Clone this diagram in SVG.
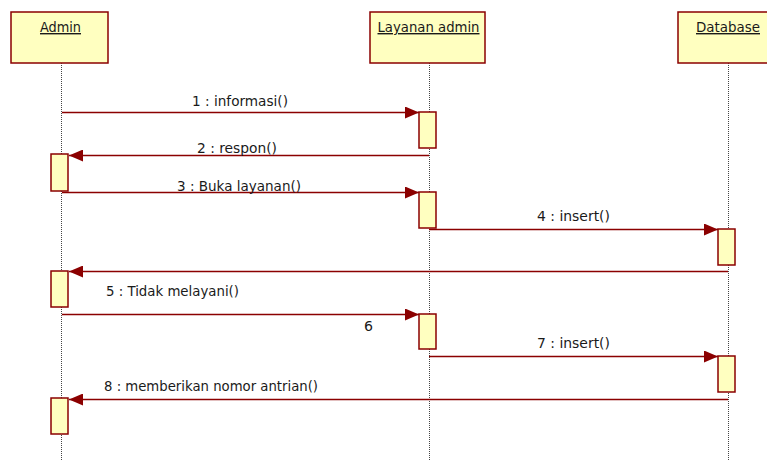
<svg xmlns="http://www.w3.org/2000/svg" width="767" height="460" viewBox="0 0 767 460">
<defs>
<style>
.obj{fill:#ffffc0;stroke:#8b0000;stroke-width:1.5}
.act{fill:#ffffc0;stroke:#8b0000;stroke-width:1.5}
.life{stroke:#444;stroke-width:1;stroke-dasharray:1,1;fill:none}
.msg{stroke:#8b0000;stroke-width:1.4;fill:none;marker-end:url(#ah)}
.hd{font-family:"DejaVu Sans",Verdana,sans-serif;font-size:14px;fill:#1a1a1a;text-decoration:underline;text-anchor:middle}
.lb{font-family:"DejaVu Sans",Verdana,sans-serif;font-size:14px;fill:#1a1a1a}
</style>
<marker id="ah" markerUnits="userSpaceOnUse" markerWidth="16" markerHeight="12" refX="14" refY="6" orient="auto">
<path d="M0,0 L14,6 L0,12 Z" fill="#8b0000"/>
</marker>
</defs>
<rect width="767" height="460" fill="#ffffff"/>
<g id="admin">
<line class="life" x1="61.5" y1="63" x2="61.5" y2="460"/>
<rect class="obj" x="11" y="12" width="97" height="51"/>
<text class="hd" x="60.5" y="32" textLength="41" lengthAdjust="spacingAndGlyphs">Admin</text>
<rect class="act" x="51" y="154" width="17" height="37"/>
<rect class="act" x="51" y="271" width="17" height="36"/>
<rect class="act" x="51" y="398" width="17" height="36"/>
</g>
<g id="layanan">
<line class="life" x1="429.5" y1="63" x2="429.5" y2="460"/>
<rect class="obj" x="370" y="12" width="115" height="51"/>
<text class="hd" x="428.5" y="32" textLength="102" lengthAdjust="spacingAndGlyphs">Layanan admin</text>
<rect class="act" x="419" y="112" width="17" height="36"/>
<rect class="act" x="419" y="192" width="17" height="36"/>
<rect class="act" x="419" y="314" width="17" height="35"/>
</g>
<g id="database">
<line class="life" x1="728.5" y1="63" x2="728.5" y2="460"/>
<rect class="obj" x="678" y="12" width="100" height="51"/>
<text class="hd" x="728" y="32" textLength="64" lengthAdjust="spacingAndGlyphs">Database</text>
<rect class="act" x="718" y="229" width="17" height="36"/>
<rect class="act" x="718" y="356" width="17" height="36"/>
</g>
<g id="connectors">
<line class="msg" x1="62" y1="112.5" x2="419" y2="112.5"/>
<line class="msg" x1="429" y1="155.5" x2="69" y2="155.5"/>
<line class="msg" x1="62" y1="192.5" x2="419" y2="192.5"/>
<line class="msg" x1="429" y1="229.5" x2="718" y2="229.5"/>
<line class="msg" x1="728" y1="271.5" x2="69" y2="271.5"/>
<line class="msg" x1="62" y1="314.5" x2="419" y2="314.5"/>
<line class="msg" x1="429" y1="356.5" x2="718" y2="356.5"/>
<line class="msg" x1="728" y1="399.5" x2="69" y2="399.5"/>
</g>
<g id="labels">
<text class="lb" x="192" y="106" textLength="96" lengthAdjust="spacingAndGlyphs">1 : informasi()</text>
<text class="lb" x="197" y="153" textLength="80" lengthAdjust="spacingAndGlyphs">2 : respon()</text>
<text class="lb" x="177" y="191" textLength="124" lengthAdjust="spacingAndGlyphs">3 : Buka layanan()</text>
<text class="lb" x="537" y="221" textLength="73" lengthAdjust="spacingAndGlyphs">4 : insert()</text>
<text class="lb" x="106" y="296" textLength="133" lengthAdjust="spacingAndGlyphs">5 : Tidak melayani()</text>
<text class="lb" x="364" y="331" textLength="9" lengthAdjust="spacingAndGlyphs">6</text>
<text class="lb" x="537" y="348" textLength="73" lengthAdjust="spacingAndGlyphs">7 : insert()</text>
<text class="lb" x="104" y="391" textLength="214" lengthAdjust="spacingAndGlyphs">8 : memberikan nomor antrian()</text>
</g>
</svg>
